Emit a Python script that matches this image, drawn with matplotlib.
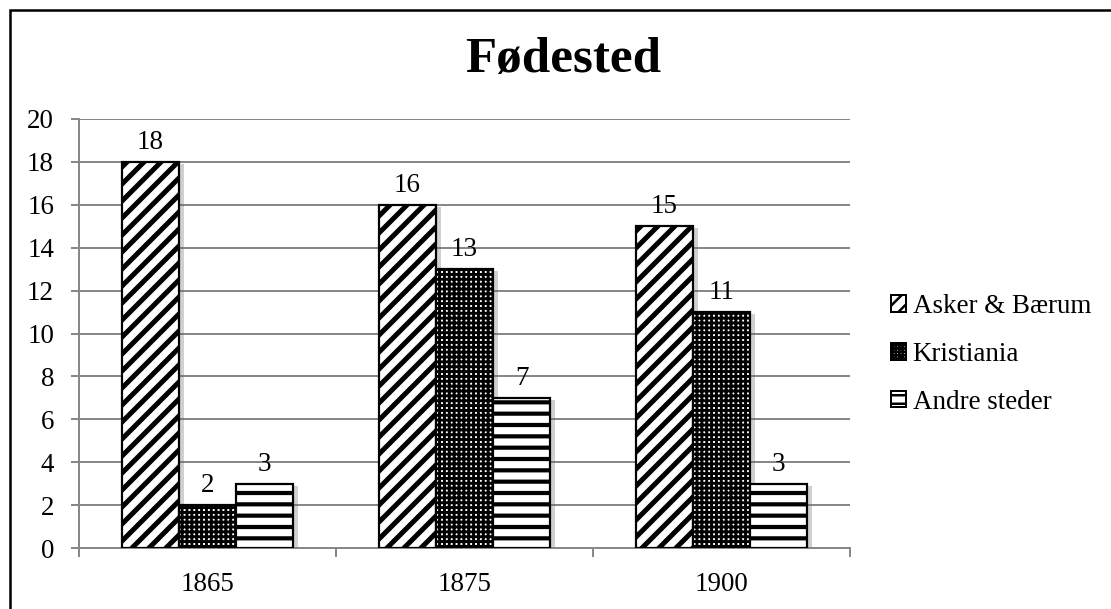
import matplotlib
matplotlib.use("Agg")
import matplotlib.pyplot as plt
import matplotlib.patches as mpatches
import matplotlib.patheffects as pe
import numpy as np

categories = ["1865", "1875", "1900"]
series_names = ["Asker & Bærum", "Kristiania", "Andre steder"]
asker = [18, 16, 15]
kristiania = [2, 13, 11]
andre = [3, 7, 3]
yticks = [0, 2, 4, 6, 8, 10, 12, 14, 16, 18, 20]
title = "Fødested"

DPI = 204
W, H = 1111, 609


def pt(px):
    return px * 72.0 / DPI


series = [asker, kristiania, andre]
hatches = ["////", "+++++++", "---"]
hatch_lw = [pt(5.0), pt(2.9), pt(4.2)]

plt.rcParams["font.family"] = ["Liberation Serif", "DejaVu Serif"]
fig = plt.figure(figsize=(W / DPI, H / DPI), dpi=DPI)

ax = fig.add_axes([79 / W, 1 - 548 / H, (850 - 79) / W, (548 - 119) / H])

n = len(categories)
w = 1 / 4.5
x = np.arange(n) + 0.5
offsets = [-w, 0, w]
FS = pt(27)

# shadows (plain bars underneath)
for vals, off in zip(series, offsets):
    ax.bar(x + off, vals, width=w, color="white", linewidth=0, zorder=2.5,
           path_effects=[pe.SimplePatchShadow(offset=(pt(5), pt(-2)), shadow_rgbFace="#666666", alpha=0.3),
                         pe.Normal()])

for vals, off, h, hl in zip(series, offsets, hatches, hatch_lw):
    with plt.rc_context({"hatch.linewidth": hl}):
        bars = ax.bar(x + off, vals, width=w, color="white", edgecolor="black",
                      linewidth=pt(2.2), hatch=h, zorder=3)
        for b in bars:
            if hasattr(b, "set_hatch_linewidth"):
                b.set_hatch_linewidth(hl)
    for xi, v in zip(x + off, vals):
        ax.annotate(str(v), (xi, v), xytext=(0, 7), textcoords="offset pixels",
                    ha="center", va="bottom", fontsize=FS)

ax.set_xlim(0, n)
ax.set_ylim(0, 20)
ax.set_yticks(yticks)
ax.set_yticklabels([str(t) for t in yticks], fontsize=FS)
ax.set_xticks(np.arange(n + 1))
ax.set_xticklabels([])
ax.set_xticks(x, minor=True)
ax.set_xticklabels(categories, minor=True, fontsize=FS)
ax.tick_params(axis="x", which="minor", length=0, pad=pt(24))
ax.tick_params(axis="x", which="major", length=pt(9), width=pt(2), color="#888888", direction="out")
ax.tick_params(axis="y", length=pt(8), width=pt(2), color="#888888", pad=pt(17))
ax.grid(axis="y", color="#888888", linewidth=pt(2), zorder=0)
ax.set_axisbelow(True)
for s in ["top", "right"]:
    ax.spines[s].set_visible(False)
for s in ["left", "bottom"]:
    ax.spines[s].set_color("#888888")
    ax.spines[s].set_linewidth(pt(2))

handles = []
for h, name in zip(["/////", "++++++++++", "----"], series_names):
    p = mpatches.Patch(facecolor="white", edgecolor="black", hatch=h, linewidth=pt(2), label=name)
    handles.append(p)
with plt.rc_context({"hatch.linewidth": pt(2.5)}):
    leg = fig.legend(handles=handles, loc="upper left", bbox_to_anchor=(891 / W, 1 - 294 / H),
                     frameon=False, fontsize=FS, handlelength=0.55, handleheight=0.55,
                     handletextpad=0.25, labelspacing=0.85, borderaxespad=0, borderpad=0)

fig.text(563 / W, 1 - 60 / H, title, ha="center", va="center", fontsize=pt(51), fontweight="bold")

border = mpatches.Rectangle((10 / W, -0.1), 1.2, 1 - 10 / H + 0.1, transform=fig.transFigure,
                            fill=False, edgecolor="black", linewidth=pt(2.5))
fig.add_artist(border)

fig.savefig("out.png", dpi=DPI, facecolor="white")
